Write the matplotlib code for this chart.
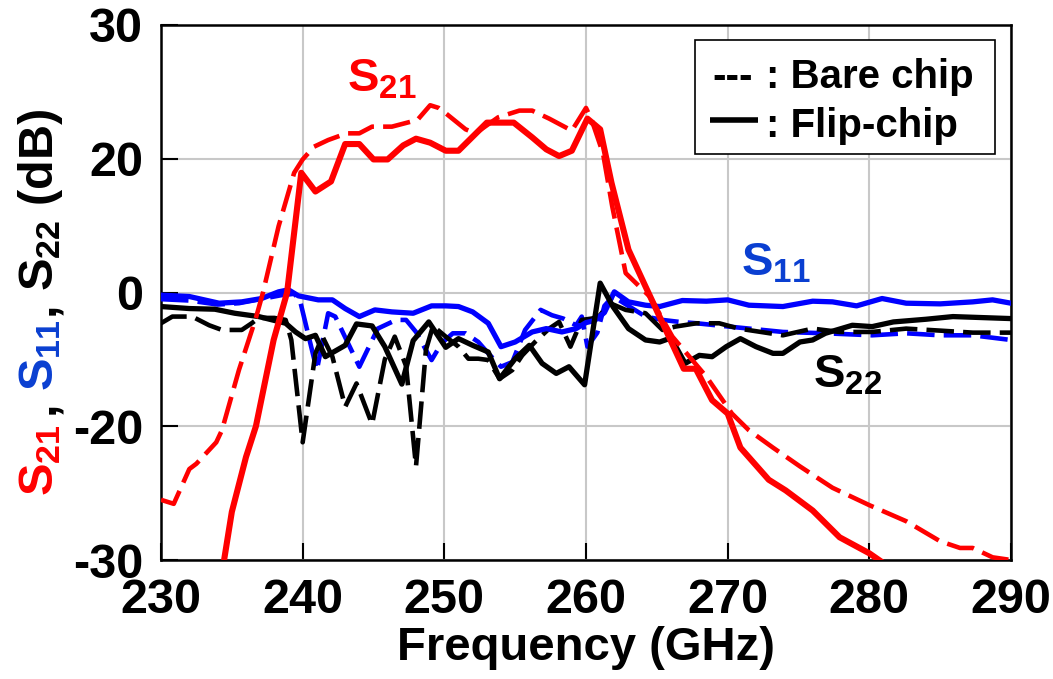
import numpy as np
import matplotlib
matplotlib.use("Agg")
import matplotlib.pyplot as plt
from matplotlib.lines import Line2D
from matplotlib.patches import Rectangle

plt.rcParams['font.family'] = ['Liberation Sans', 'DejaVu Sans']
plt.rcParams['font.weight'] = 'bold'
plt.rcParams['axes.unicode_minus'] = False
plt.rcParams['mathtext.fontset'] = 'custom'
plt.rcParams['mathtext.rm'] = 'Liberation Sans:bold'
plt.rcParams['mathtext.it'] = 'Liberation Sans:bold'
plt.rcParams['mathtext.bf'] = 'Liberation Sans:bold'
plt.rcParams['mathtext.sf'] = 'Liberation Sans:bold'

# ---- measured S-parameters (GHz, dB) ----
s21_flip_f = [234.0, 235.0, 236.0, 236.7, 237.95, 238.9, 239.9, 240.9, 242.0, 243.0,
              244.0, 245.0, 246.0, 247.1, 248.0, 249.0, 250.1, 251.0, 253.0, 254.9,
              256.2, 257.2, 258.1, 259.0, 260.1, 261.0, 261.8, 263.0, 264.2, 265.5,
              266.9, 267.75, 268.9, 270.0, 270.9, 272.9, 274.1, 276.0, 277.9, 280.0,
              281.5]
s21_flip_db = [-33.0, -26.4, -22.3, -20.0, -7.1, 0.0, 17.9, 15.1, 16.6, 21.1,
               21.1, 19.9, 19.9, 21.0, 21.5, 21.2, 20.6, 20.6, 22.7, 22.7,
               21.6, 20.7, 20.2, 20.6, 23.0, 22.2, 16.4, 6.4, 0.9, -5.0,
               -11.4, -11.4, -16.1, -18.1, -21.6, -24.0, -24.8, -26.3, -28.3, -29.5,
               -30.6]

s21_bare_f = [230.0, 230.9, 232.0, 232.5, 233.9, 234.3, 235.5, 236.7, 237.2, 238.3,
              239.4, 240.0, 240.8, 241.8, 243.1, 244.0, 244.9, 246.3, 248.1, 249.0,
              249.6, 250.1, 251.5, 252.2, 253.8, 255.3, 256.2, 257.4, 259.0, 260.0,
              260.4, 261.2, 261.85, 262.8, 264.5, 266.1, 268.5, 270.3, 271.5, 273.2,
              275.1, 277.4, 280.0, 282.6, 285.0, 286.4, 287.3, 288.7, 290.0]
s21_bare_db = [-25.5, -25.8, -23.2, -22.8, -21.2, -20.3, -11.6, -3.8, 0.0, 9.9,
               17.9, 19.9, 20.9, 21.4, 21.9, 21.9, 22.4, 22.4, 22.9, 24.0,
               23.8, 23.4, 22.2, 21.9, 23.1, 23.6, 23.6, 23.0, 22.1, 23.8,
               22.9, 20.4, 12.9, 2.9, -0.6, -6.6, -12.6, -18.1, -20.3, -21.6,
               -23.0, -24.6, -25.9, -27.1, -28.6, -29.1, -29.1, -29.8, -30.0]

s11_flip_f = [230.0, 232.0, 234.1, 235.7, 237.1, 238.3, 239.0, 239.7, 241.1, 242.1,
              243.0, 244.0, 245.1, 246.3, 247.8, 249.1, 250.1, 251.0, 252.0, 253.1,
              254.0, 255.0, 256.2, 257.2, 258.3, 259.3, 260.0, 260.6, 261.3, 262.0,
              263.0, 264.2, 265.2, 266.8, 268.5, 270.0, 271.5, 273.9, 276.0, 277.4,
              279.1, 280.9, 282.6, 285.0, 287.3, 288.7, 290.0]
s11_flip_db = [-0.4, -0.6, -1.6, -1.4, -0.9, 0.1, 0.4, -0.5, -1.1, -1.1,
               -2.4, -3.6, -2.6, -2.9, -3.1, -2.0, -2.0, -2.1, -2.9, -4.6,
               -8.1, -7.4, -5.9, -5.4, -5.9, -5.4, -4.5, -4.2, -3.0, 0.1,
               -1.4, -1.9, -2.1, -1.2, -1.3, -1.1, -1.9, -2.1, -1.3, -1.4,
               -2.0, -0.9, -1.6, -1.7, -1.4, -1.1, -1.6]

s11_bare_f = [230.0, 232.0, 234.0, 235.5, 237.0, 238.5, 239.4, 239.8, 241.0, 241.8,
              242.3, 244.0, 245.3, 246.6, 247.3, 248.0, 249.1, 249.8, 250.6, 251.5,
              252.4, 253.1, 254.0, 254.8, 255.7, 256.8, 257.6, 258.4, 259.3, 259.7,
              260.1, 260.8, 261.3, 261.9, 262.3, 264.2, 265.4, 266.6, 267.8, 270.1,
              273.9, 276.9, 280.2, 282.6, 285.0, 287.3, 290.0]
s11_bare_db = [-1.0, -1.2, -1.8, -1.6, -1.0, -0.4, -0.2, -1.1, -11.6, -3.1,
               -3.6, -11.1, -5.4, -4.1, -4.1, -5.9, -10.1, -7.6, -6.1, -6.1,
               -7.4, -9.1, -11.1, -10.4, -5.6, -2.6, -3.4, -3.9, -4.9, -3.6,
               -8.1, -6.0, -2.0, -0.6, -1.1, -3.6, -4.1, -4.4, -4.6, -5.1,
               -5.9, -6.1, -6.4, -6.1, -6.4, -6.4, -7.1]

s22_flip_f = [230.0, 232.0, 233.8, 235.2, 236.9, 238.8, 239.5, 240.2, 240.9, 241.6,
              243.0, 243.8, 244.9, 245.8, 247.0, 247.8, 248.9, 250.1, 251.0, 252.0,
              253.1, 253.9, 255.0, 256.0, 256.9, 257.9, 258.8, 259.9, 261.0, 261.9,
              263.0, 264.2, 265.2, 266.0, 267.0, 268.0, 268.9, 269.9, 270.9, 272.0,
              273.2, 273.9, 275.1, 276.0, 276.9, 278.8, 280.2, 281.7, 284.0, 285.9,
              290.0]
s22_flip_db = [-2.1, -2.4, -2.5, -3.1, -3.6, -4.6, -5.9, -6.9, -6.4, -9.6,
               -7.9, -4.7, -5.0, -8.1, -13.7, -7.2, -4.4, -8.2, -6.9, -7.9,
               -8.9, -12.9, -9.9, -7.9, -10.6, -12.1, -11.1, -13.8, 1.4, -2.1,
               -5.4, -7.1, -7.4, -6.8, -10.6, -9.4, -9.6, -8.1, -6.9, -8.1,
               -9.1, -9.1, -7.4, -7.1, -6.1, -4.9, -5.1, -4.4, -4.0, -3.6,
               -3.9]

s22_bare_f = [230.0, 230.8, 232.2, 233.4, 234.3, 235.7, 236.4, 236.9, 238.0, 238.8,
              239.2, 240.0, 240.9, 241.4, 242.1, 243.0, 243.8, 244.9, 245.8, 246.5,
              247.3, 248.0, 248.7, 249.2, 250.1, 251.0, 251.7, 252.4, 253.1, 253.9,
              254.8, 255.5, 256.4, 257.4, 258.1, 258.9, 259.3, 259.7, 260.4, 260.9,
              261.7, 262.8, 264.2, 265.4, 266.3, 267.8, 269.4, 270.8, 273.9, 276.0,
              277.9, 280.2, 282.6, 285.0, 287.3, 290.0]
s22_bare_db = [-4.6, -3.6, -3.6, -4.9, -5.6, -5.6, -4.6, -3.8, -3.8, -4.1,
               -7.1, -21.2, -9.1, -6.6, -9.6, -17.1, -13.6, -19.7, -10.0, -6.6,
               -11.0, -23.0, -8.6, -5.0, -6.6, -8.1, -9.9, -9.9, -10.1, -12.9,
               -11.6, -9.4, -7.4, -5.4, -4.4, -8.1, -6.1, -4.1, -3.9, -3.6,
               -1.6, -2.6, -3.1, -5.6, -5.1, -4.6, -4.6, -5.4, -6.4, -5.4,
               -5.9, -5.9, -5.4, -5.7, -6.0, -6.0]

x_ticks = [230, 240, 250, 260, 270, 280, 290]
y_ticks = [-30, -20, 0, 20, 30]
y_tick_labels = ['-30', '-20', '0', '20', '30']

# ---- figure ----
W, H = 1053, 679
fig = plt.figure(figsize=(W / 100, H / 100), dpi=100)
ax_l, ax_r, ax_t, ax_b = 161, 1011, 25, 560
ax = fig.add_axes([ax_l / W, 1 - ax_b / H, (ax_r - ax_l) / W, (ax_b - ax_t) / H])


# the dB axis is compressed by half beyond +/-20 dB
def fwd(v):
    v = np.asarray(v, dtype=float)
    return np.where(v > 20, 20 + (v - 20) * 2, np.where(v < -20, -20 + (v + 20) * 2, v))


def inv(u):
    u = np.asarray(u, dtype=float)
    return np.where(u > 20, 20 + (u - 20) / 2, np.where(u < -20, -20 + (u + 20) / 2, u))


ax.set_yscale('function', functions=(fwd, inv))

RED, BLUE, BLACK = '#ff0000', '#0000ff', '#000000'
LABEL_BLUE = '#0a3fd1'
dash = (0, (6, 2))
lw_d = 3.3

ax.plot(s11_bare_f, s11_bare_db, color=BLUE, lw=lw_d, ls=dash, zorder=3)
ax.plot(s22_bare_f, s22_bare_db, color=BLACK, lw=lw_d, ls=dash, zorder=3)
ax.plot(s11_flip_f, s11_flip_db, color=BLUE, lw=3.8, zorder=4)
ax.plot(s22_flip_f, s22_flip_db, color=BLACK, lw=3.8, zorder=4)
ax.plot(s21_bare_f, s21_bare_db, color=RED, lw=lw_d, ls=dash, zorder=5)
ax.plot(s21_flip_f, s21_flip_db, color=RED, lw=4.4, zorder=6)

ax.set_xlim(230, 290)
ax.set_ylim(-30, 30)
ax.set_xticks(x_ticks)
ax.set_yticks(y_ticks)
ax.set_yticklabels(y_tick_labels)

ax.grid(True, color='#c8c8c8', lw=1.5, zorder=0)
ax.set_axisbelow(True)
for s in ax.spines.values():
    s.set_linewidth(1.8)
ax.tick_params(axis='both', direction='in', length=12, width=1.5, labelsize=35,
               pad=13, right=False, top=False)
for lab in ax.get_xticklabels() + ax.get_yticklabels():
    lab.set_fontweight('bold')

ax.set_xlabel('Frequency (GHz)', fontsize=34, fontweight='bold', labelpad=2)

# curve labels
ax.text(243.1, 25.0, 'S$_{21}$', color=RED, fontsize=34, fontweight='bold',
        ha='left', va='baseline', zorder=7)
ax.text(270.95, 2.5, 'S$_{11}$', color=LABEL_BLUE, fontsize=34, fontweight='bold',
        ha='left', va='baseline', zorder=7)
ax.text(276.0, -14.2, 'S$_{22}$', color=BLACK, fontsize=34, fontweight='bold',
        ha='left', va='baseline', zorder=7)

# legend box
ax.add_patch(Rectangle(((695 - ax_l) / (ax_r - ax_l), 1 - (154 - ax_t) / (ax_b - ax_t)),
                       (995 - 695) / (ax_r - ax_l), (154 - 40) / (ax_b - ax_t),
                       transform=ax.transAxes, facecolor='white', edgecolor='black',
                       lw=1.2, zorder=8))


def ax_xy(px, py):
    return (px - ax_l) / (ax_r - ax_l), 1 - (py - ax_t) / (ax_b - ax_t)


ax.text(*ax_xy(712, 88), '---', fontsize=29, fontweight='bold', ha='left',
        va='baseline', transform=ax.transAxes, zorder=9)
ax.text(*ax_xy(766, 88), ': Bare chip', fontsize=29, fontweight='bold', ha='left',
        va='baseline', transform=ax.transAxes, zorder=9)
x0, y0 = ax_xy(710, 120)
x1, _ = ax_xy(758, 120)
ax.add_line(Line2D([x0, x1], [y0, y0], color='black', lw=4.0, transform=ax.transAxes,
                   zorder=9, solid_capstyle='butt'))
ax.text(*ax_xy(766, 137), ': Flip-chip', fontsize=29, fontweight='bold', ha='left',
        va='baseline', transform=ax.transAxes, zorder=9)

# multi-coloured vertical axis title, built bottom to top
renderer = fig.canvas.get_renderer()
pieces = [('S$_{21}$', RED, 0), (',', BLACK, 10), ('S$_{11}$', LABEL_BLUE, 10),
          (',', BLACK, 4), ('S$_{22}$ (dB)', BLACK, 10)]
ypix = 496
for txt, col, gap in pieces:
    ypix -= gap
    t = fig.text(53 / W, 1 - ypix / H, txt, color=col, fontsize=35, fontweight='bold',
                 rotation=90, rotation_mode='anchor', ha='left', va='baseline')
    bb = t.get_window_extent(renderer)
    ypix -= bb.height

fig.savefig('out.png', dpi=100)
